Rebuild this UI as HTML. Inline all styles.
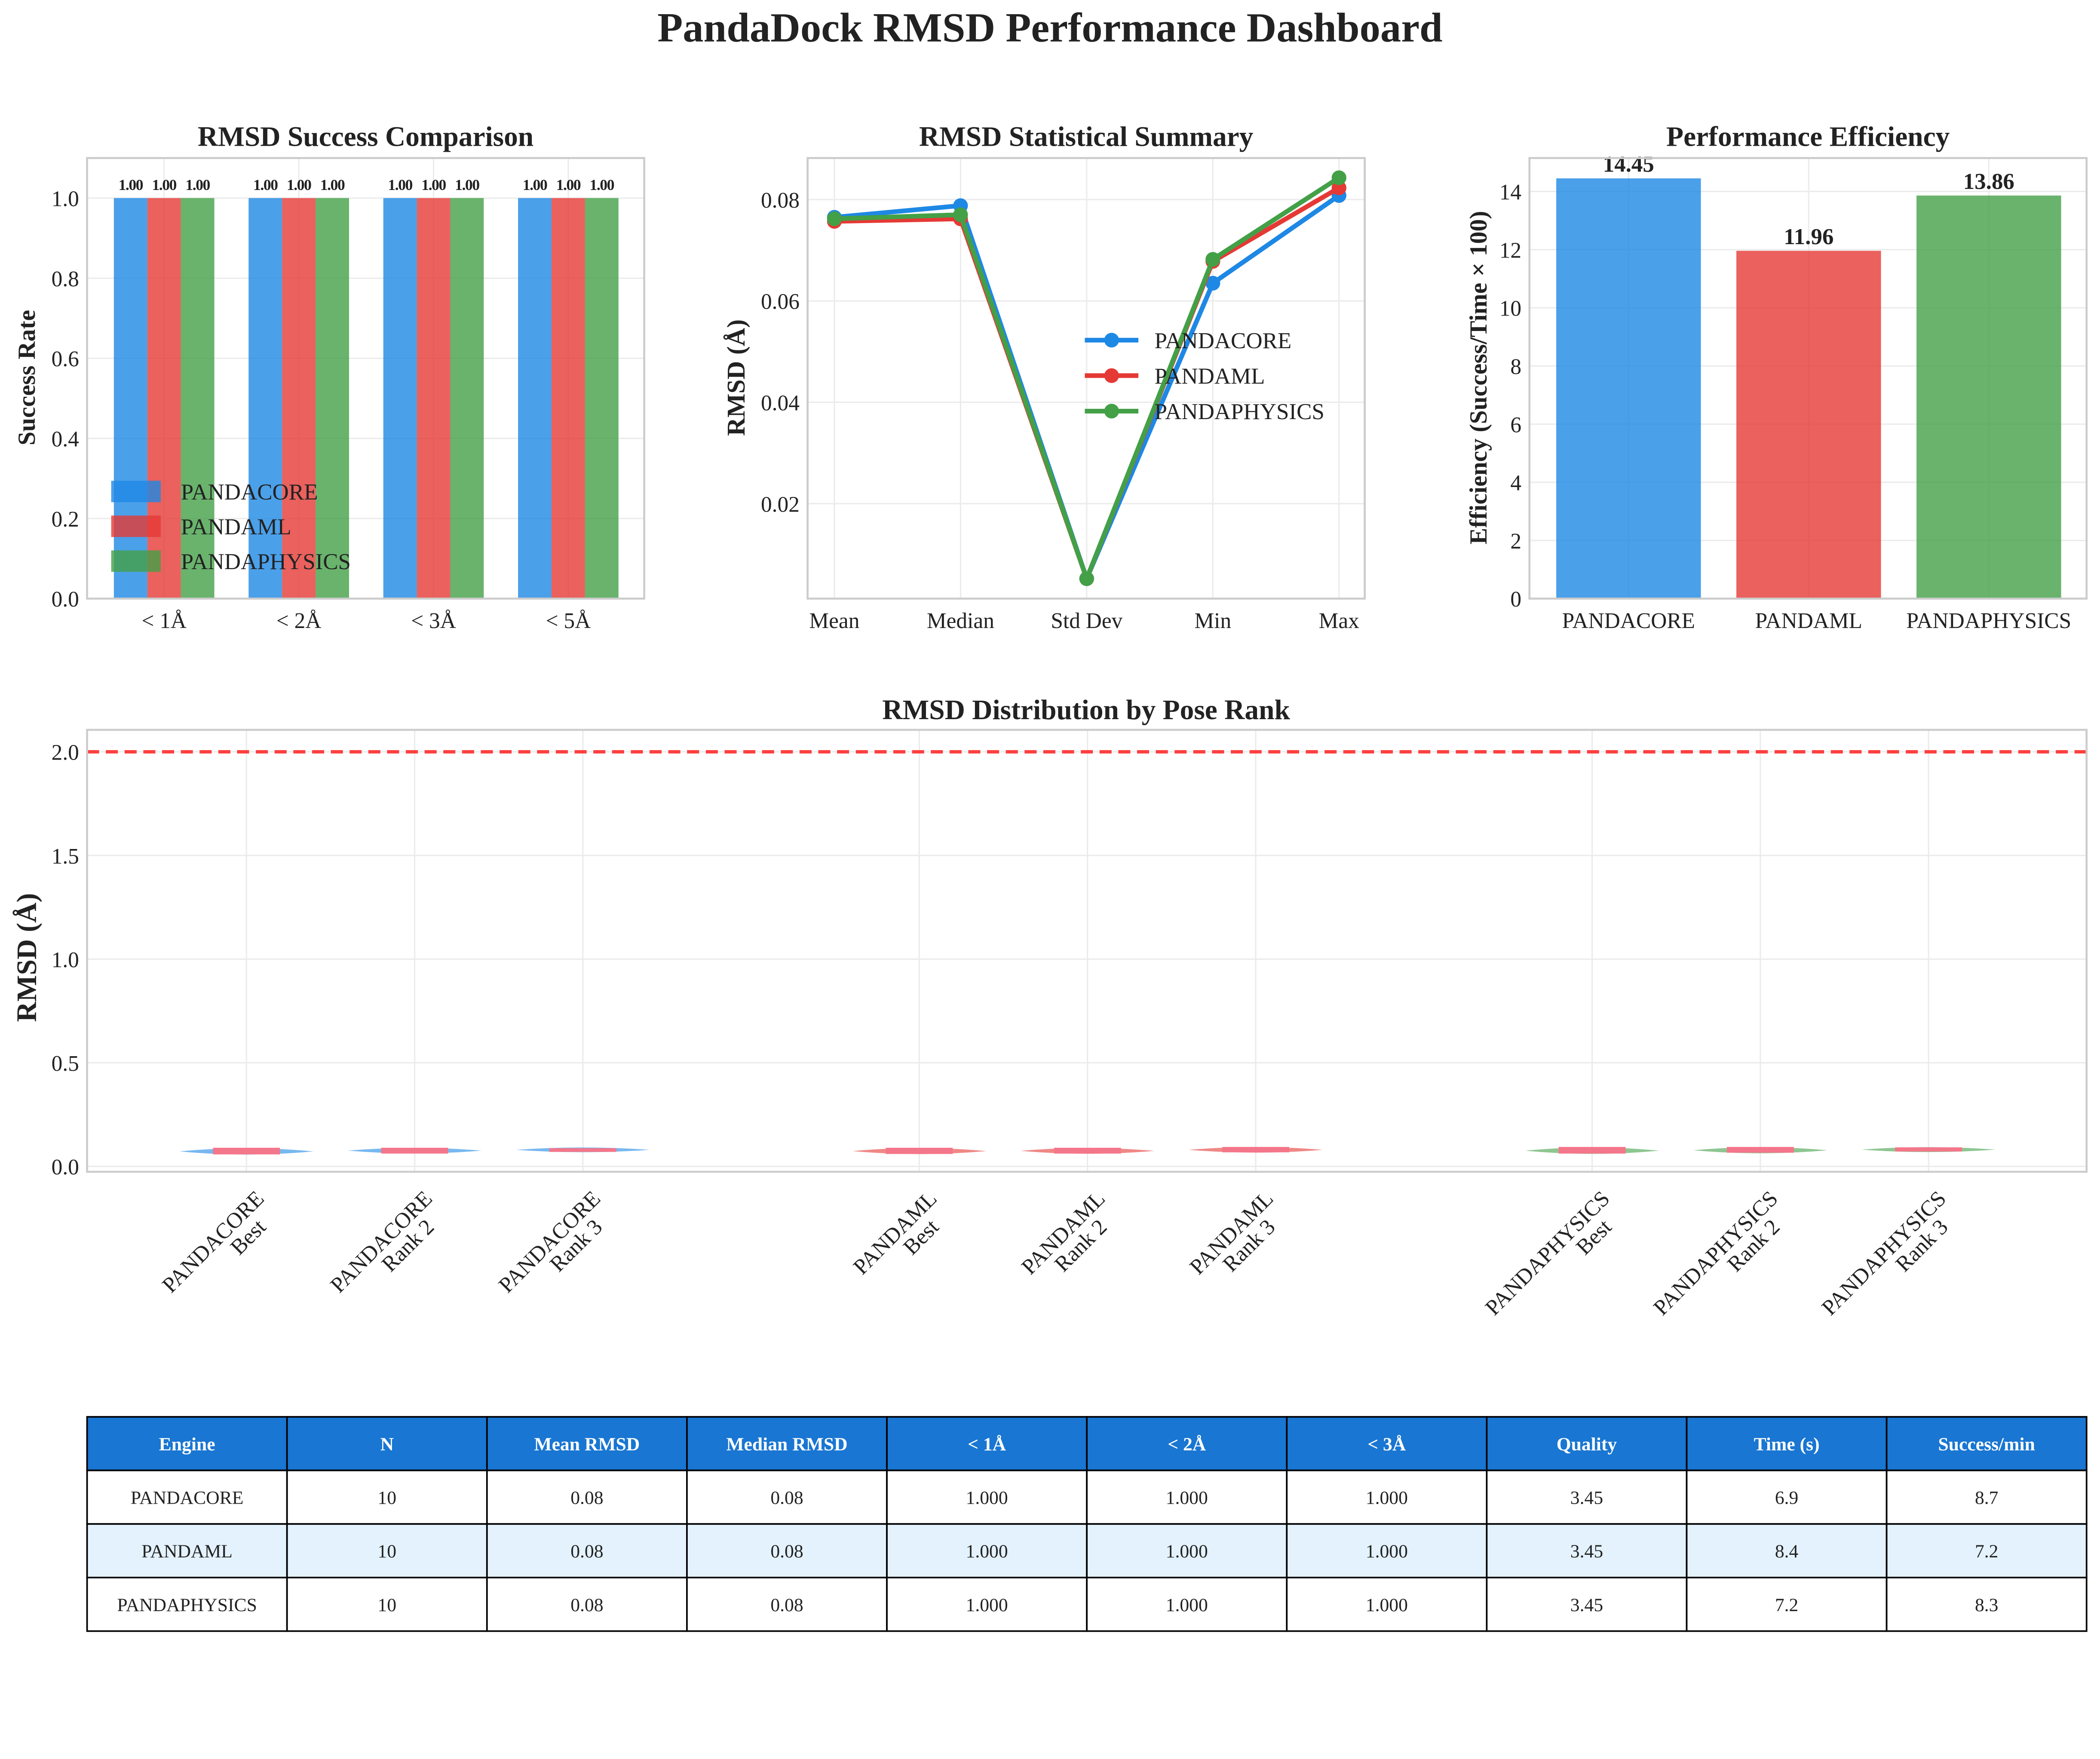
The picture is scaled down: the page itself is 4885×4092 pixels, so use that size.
<!DOCTYPE html>
<html><head><meta charset="utf-8"><style>
html,body{margin:0;padding:0;background:#fff}
svg{display:block;font-family:"Liberation Serif",serif}
</style></head><body>
<svg id="s" width="4885" height="4092" viewBox="0 0 1568 1313.5" xmlns="http://www.w3.org/2000/svg">
<rect width="1568" height="1313.5" fill="#fff"/>
<text x="784" y="31" text-anchor="middle" font-size="31" font-weight="bold" fill="#222">PandaDock RMSD Performance Dashboard</text>
</svg>
<script>
const engines=["PANDACORE","PANDAML","PANDAPHYSICS"];
const colors=["#1e88e5","#e53935","#43a047"];
const thresholds=["< 1Å","< 2Å","< 3Å","< 5Å"];
const successCore=[1,1,1,1];
const successML=[1,1,1,1];
const successPhys=[1,1,1,1];
const statCats=["Mean","Median","Std Dev","Min","Max"];
const statCore=[0.0765,0.0788,0.0052,0.0635,0.0808];
const statML=[0.0757,0.0762,0.0052,0.0678,0.0823];
const statPhys=[0.0762,0.0770,0.0052,0.0682,0.0843];
const efficiency=[14.45,11.96,13.86];
const poseLabels=[["PANDACORE","Best"],["PANDACORE","Rank 2"],["PANDACORE","Rank 3"],["PANDAML","Best"],["PANDAML","Rank 2"],["PANDAML","Rank 3"],["PANDAPHYSICS","Best"],["PANDAPHYSICS","Rank 2"],["PANDAPHYSICS","Rank 3"]];
const poseMin=[0.055,0.062,0.070,0.058,0.060,0.066,0.058,0.062,0.070];
const poseMax=[0.090,0.090,0.090,0.090,0.090,0.094,0.094,0.094,0.092];
const poseQ1=[0.058,0.062,0.070,0.060,0.062,0.068,0.062,0.066,0.072];
const poseQ3=[0.090,0.090,0.088,0.090,0.090,0.094,0.094,0.094,0.092];
const threshold=2.0;
const tableHead=["Engine","N","Mean RMSD","Median RMSD","< 1Å","< 2Å","< 3Å","Quality","Time (s)","Success/min"];
const tableRows=[["PANDACORE","10","0.08","0.08","1.000","1.000","1.000","3.45","6.9","8.7"],["PANDAML","10","0.08","0.08","1.000","1.000","1.000","3.45","8.4","7.2"],["PANDAPHYSICS","10","0.08","0.08","1.000","1.000","1.000","3.45","7.2","8.3"]];

const S=document.getElementById('s');const NS="http://www.w3.org/2000/svg";
function el(t,a,txt){const e=document.createElementNS(NS,t);for(const k in a)e.setAttribute(k,a[k]);if(txt!==undefined)e.textContent=txt;S.appendChild(e);return e;}
function frame(x0,y0,x1,y1){const r=el('rect',{x:x0,y:y0,width:x1-x0,height:y1-y0,fill:'none',stroke:'#ccc','stroke-width':1.5});

}
function hgrid(x0,x1,y){const l=el('line',{x1:x0,x2:x1,y1:y,y2:y,stroke:'#ebebeb','stroke-width':1});

}
function vgrid(x,y0,y1){const l=el('line',{x1:x,x2:x,y1:y0,y2:y1,stroke:'#ebebeb','stroke-width':1});

}
function txt(x,y,s,o){const a=Object.assign({x:x,y:y,'font-size':16.5,fill:'#222'},o||{});return el('text',a,s);}

// Panel 1
{const X0=65,X1=481,Y0=118,Y1=447;const ys=v=>Y1-(v/1.1)*(Y1-Y0);
 const gx=i=>122.5+i*100.6;
 [0,0.2,0.4,0.6,0.8,1.0].forEach(v=>{hgrid(X0,X1,ys(v));const t=txt(X0-6,ys(v)+6,v.toFixed(1),{'text-anchor':'end'});
 
 });
 thresholds.forEach((c,i)=>{vgrid(gx(i),Y0,Y1);const t=txt(gx(i),469,c,{'text-anchor':'middle'});
 
 });
 [successCore,successML,successPhys].forEach((ser,k)=>{ser.forEach((v,i)=>{const x=gx(i)+(k-1)*25-12.5;
  const b=el('rect',{x:x,y:ys(v),width:25,height:Y1-ys(v),fill:colors[k],'fill-opacity':0.8});
  
  
  const t=txt(x+12.5,ys(v)-6,v.toFixed(2),{'text-anchor':'middle','font-size':11.5,'font-weight':'bold','letter-spacing':'-0.5'});
  
  });});
 frame(X0,Y0,X1,Y1);
 const tt=txt(273,109,"RMSD Success Comparison",{'text-anchor':'middle','font-size':21,'font-weight':'bold'});
 
 
 const yl=txt(0,0,"Success Rate",{'text-anchor':'middle','font-size':18.5,'font-weight':'bold',transform:'translate(26,282) rotate(-90)'});
 
 
 engines.forEach((e,k)=>{const y=367+k*26;const r=el('rect',{x:83,y:y-8,width:37,height:16,fill:colors[k],'fill-opacity':0.8});
 
 
 const t=txt(135,y+6,e,{'font-size':17});
 
 });
}
// Panel 2
{const X0=603,X1=1019,Y0=118,Y1=447;const ys=v=>149+(0.08-v)/0.02*75.7;const xs=i=>623+i*94.2;
 [0.02,0.04,0.06,0.08].forEach(v=>{hgrid(X0,X1,ys(v));const t=txt(X0-6,ys(v)+6,v.toFixed(2),{'text-anchor':'end'});
 
 });
 statCats.forEach((c,i)=>{vgrid(xs(i),Y0,Y1);const t=txt(xs(i),469,c,{'text-anchor':'middle'});
 
 });
 [statCore,statML,statPhys].forEach((ser,k)=>{const p=el('polyline',{points:ser.map((v,i)=>xs(i)+','+ys(v)).join(' '),fill:'none',stroke:colors[k],'stroke-width':3.5});
  
  
  ser.forEach((v,i)=>{const c=el('circle',{cx:xs(i),cy:ys(v),r:5.5,fill:colors[k]});
  
  });});
 frame(X0,Y0,X1,Y1);
 const tt=txt(811,109,"RMSD Statistical Summary",{'text-anchor':'middle','font-size':21,'font-weight':'bold'});
 
 
 const yl=txt(0,0,"RMSD (Å)",{'text-anchor':'middle','font-size':19,'font-weight':'bold',transform:'translate(556,282) rotate(-90)'});
 
 
 engines.forEach((e,k)=>{const y=254+k*26.5;const l=el('line',{x1:810,x2:850,y1:y,y2:y,stroke:colors[k],'stroke-width':3.5});
 
 
 const c=el('circle',{cx:830,cy:y,r:5.5,fill:colors[k]});
 
 
 const t=txt(862,y+6,e,{'font-size':17});
 
 });
}
// Panel 3
{const X0=1142,X1=1558,Y0=118,Y1=447;const ys=v=>Y1-v/15.15*(Y1-Y0);const xs=i=>1216+i*134.5;
 [0,2,4,6,8,10,12,14].forEach(v=>{hgrid(X0,X1,ys(v));const t=txt(X0-6,ys(v)+6,String(v),{'text-anchor':'end'});
 
 });
 engines.forEach((e,i)=>{vgrid(xs(i),Y0,Y1);const t=txt(xs(i),469,e,{'text-anchor':'middle'});
 
 });
 efficiency.forEach((v,i)=>{const b=el('rect',{x:xs(i)-54,y:ys(v),width:108,height:Y1-ys(v),fill:colors[i],'fill-opacity':0.8});
  
  
  const t=txt(xs(i),ys(v)-5,v.toFixed(2),{'text-anchor':'middle','font-size':17,'font-weight':'bold'});
  
  });
 frame(X0,Y0,X1,Y1);
 const tt=txt(1350,109,"Performance Efficiency",{'text-anchor':'middle','font-size':21,'font-weight':'bold'});
 
 
 const yl=txt(0,0,"Efficiency (Success/Time × 100)",{'text-anchor':'middle','font-size':18.5,'font-weight':'bold',transform:'translate(1110,282) rotate(-90)'});
 
 
}
// Panel 4
{const X0=65,X1=1558,Y0=545,Y1=875;const ys=v=>871-v/0.5*77.4;
 const posX=[0,1,2,4,5,6,8,9,10];const xs=i=>184+posX[i]*125.6;
 [0,0.5,1.0,1.5,2.0].forEach(v=>{hgrid(X0,X1,ys(v));const t=txt(X0-6,ys(v)+6,v.toFixed(1),{'text-anchor':'end'});
 
 });
 poseLabels.forEach((p,i)=>{vgrid(xs(i),Y0,Y1);
  const x=xs(i)+14,y=896;
  const t=el('text',{'font-size':16.5,fill:'#222','text-anchor':'end',transform:`translate(${x},${y}) rotate(-45)`});
  
  
  const a=document.createElementNS(NS,'tspan');a.setAttribute('x',0);a.setAttribute('dy',0);a.textContent=p[0];t.appendChild(a);
  const b=document.createElementNS(NS,'tspan');b.setAttribute('x',-14);b.setAttribute('dy',16);b.setAttribute('text-anchor','end');b.textContent=p[1];t.appendChild(b);
 });
 const grp=i=>Math.floor(i/3);
 poseMin.forEach((mn,i)=>{const cx=xs(i),yt=ys(poseMax[i]),yb=ys(mn),ym=(yt+yb)/2;
  const v=el('path',{d:`M${cx-50},${ym} Q${cx},${yt-2} ${cx+50},${ym} Q${cx},${yb+2} ${cx-50},${ym}Z`,fill:colors[grp(i)],'fill-opacity':0.6});
  
  
  const b=el('rect',{x:cx-25,y:ys(poseQ3[i]),width:50,height:ys(poseQ1[i])-ys(poseQ3[i]),fill:'#f4768a'});
  
  });
 const th=el('line',{x1:X0,x2:X1,y1:ys(threshold),y2:ys(threshold),stroke:'#ff2020','stroke-width':2.5,'stroke-dasharray':'9,5','stroke-opacity':0.85});
 
 
 frame(X0,Y0,X1,Y1);
 const tt=txt(811,537,"RMSD Distribution by Pose Rank",{'text-anchor':'middle','font-size':21,'font-weight':'bold'});
 
 
 const yl=txt(0,0,"RMSD (Å)",{'text-anchor':'middle','font-size':21,'font-weight':'bold',transform:'translate(27,715) rotate(-90)'});
 
 
}
// Table
{const X0=65,X1=1558,Y0=1058,RH=40,cw=(X1-X0)/10;
 const rows=[tableHead].concat(tableRows);
 rows.forEach((r,ri)=>{r.forEach((c,ci)=>{const x=X0+ci*cw,y=Y0+ri*RH;
  const fill=ri===0?'#1976d2':(ri===2?'#e3f2fd':'#fff');
  const cell=el('rect',{x:x,y:y,width:cw,height:RH,fill:fill,stroke:'#000','stroke-width':1.2});
  
  
  const t=txt(x+cw/2,y+RH/2+5,c,{'text-anchor':'middle','font-size':14,fill:ri===0?'#fff':'#222','font-weight':ri===0?'bold':'normal'});
  
  });});
}
</script>
</body></html>
